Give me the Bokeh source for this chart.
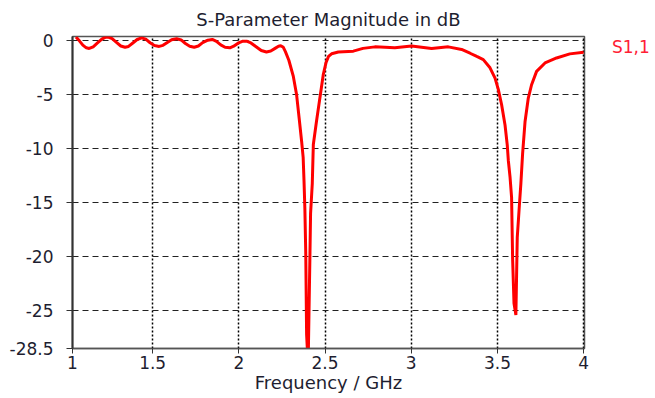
from bokeh.plotting import figure
from bokeh.models import FixedTicker, Range1d, Legend, LegendItem
from bokeh.embed import file_html
from bokeh.resources import INLINE

# S1,1 magnitude (dB) vs frequency (GHz)
freq = [1.055, 1.075, 1.095, 1.115, 1.132, 1.155, 1.18, 1.205, 1.225, 1.242,
        1.265, 1.29, 1.315, 1.34, 1.36, 1.385, 1.41, 1.436, 1.46, 1.485,
        1.51, 1.538, 1.56, 1.585, 1.61, 1.639, 1.665, 1.69, 1.715, 1.741,
        1.765, 1.79, 1.82, 1.846, 1.87, 1.895, 1.92, 1.948, 1.97, 1.995,
        2.02, 2.045, 2.07, 2.10, 2.13, 2.16, 2.185, 2.21, 2.23, 2.243,
        2.258, 2.27, 2.29, 2.316, 2.335, 2.35, 2.364, 2.373, 2.378, 2.383, 2.388,
        2.393, 2.402, 2.408, 2.412, 2.416, 2.426, 2.432, 2.45, 2.47, 2.49, 2.506,
        2.52, 2.538, 2.577, 2.664, 2.72, 2.789, 2.905, 3.002, 3.118, 3.215, 3.292,
        3.341, 3.38, 3.418, 3.457, 3.486, 3.505, 3.524, 3.544, 3.557, 3.563, 3.573,
        3.582, 3.588, 3.596, 3.607, 3.615, 3.627, 3.636, 3.646, 3.66, 3.679, 3.698,
        3.727, 3.776, 3.843, 3.92, 4.0]
s11_db = [0.35, 0.0, -0.4, -0.65, -0.71, -0.55, -0.2, 0.15, 0.32, 0.35,
          0.2, -0.15, -0.48, -0.6, -0.52, -0.2, 0.12, 0.28, 0.15, -0.18,
          -0.43, -0.52, -0.42, -0.15, 0.1, 0.2, 0.08, -0.25, -0.5, -0.6,
          -0.48, -0.17, 0.06, 0.13, -0.05, -0.38, -0.6, -0.65, -0.5, -0.22,
          -0.05, -0.03, -0.2, -0.55, -0.9, -1.03, -0.95, -0.7, -0.5, -0.45,
          -0.6, -1.0, -1.8, -3.3, -5.0, -7.2, -9.3, -10.8, -13.0, -15.6, -19.6,
          -27.2, -30.0, -24.0, -20.2, -16.0, -13.2, -9.6, -7.5, -5.3, -3.1, -2.0,
          -1.45, -1.2, -1.03, -0.96, -0.7, -0.56, -0.65, -0.49, -0.71, -0.56, -0.8,
          -1.15, -1.45, -1.74, -2.5, -3.45, -4.5, -5.9, -7.8, -9.66, -11.06, -12.6,
          -14.5, -20.2, -24.3, -25.4, -18.2, -15.3, -13.2, -10.45, -7.5, -5.3, -4.07,
          -2.83, -2.05, -1.59, -1.21, -1.05]

x_ticks = [1.035, 1.5, 2.0, 2.5, 3.0, 3.5, 4.0]
x_labels = ["1", "1.5", "2", "2.5", "3", "3.5", "4"]
y_ticks = [-28.5, -25, -20, -15, -10, -5, 0]
y_labels = ["-28.5", "-25", "-20", "-15", "-10", "-5", "0"]
series_name = "S1,1"

FONT = "DejaVu Sans"
TXT = "#1e1e30"

p = figure(frame_width=512, frame_height=312,
           min_border_left=72, min_border_right=71, min_border_top=36, min_border_bottom=50,
           x_range=Range1d(1.035, 4.005), y_range=Range1d(-28.5, 0.4),
           output_backend="svg", toolbar_location=None,
           title="S-Parameter Magnitude in dB")

p.title.text_font = FONT
p.title.text_font_size = "18px"
p.title.text_font_style = "normal"
p.title.text_color = TXT
p.title.align = "center"
p.title.vertical_align = "top"
p.title.standoff = 10

r = p.line(freq, s11_db, line_color="#ff0000", line_width=3)

p.xaxis.ticker = FixedTicker(ticks=x_ticks)
p.xaxis.major_label_overrides = dict(zip(x_ticks, x_labels))
p.yaxis.ticker = FixedTicker(ticks=y_ticks)
p.yaxis.major_label_overrides = dict(zip(y_ticks, y_labels))

p.xaxis.axis_label = "Frequency / GHz"
for ax in (p.xaxis, p.yaxis):
    ax.major_label_text_font = FONT
    ax.major_label_text_font_size = "17px"
    ax.major_label_text_color = TXT
    ax.axis_label_text_font = FONT
    ax.axis_label_text_font_size = "18px"
    ax.axis_label_text_font_style = "normal"
    ax.axis_label_text_color = TXT
    ax.minor_tick_line_color = None
    ax.major_tick_in = 0

p.xaxis.major_tick_out = 5
p.xaxis.major_label_standoff = 2
p.xaxis.axis_label_standoff = 0
p.xaxis.axis_line_color = "#555555"
p.xaxis.axis_line_width = 1.5
p.xaxis.major_tick_line_color = "#333333"

p.yaxis.major_tick_out = 6
p.yaxis.major_label_standoff = 13
p.yaxis.axis_line_color = "#333333"
p.yaxis.axis_line_width = 2
p.yaxis.major_tick_line_color = "#333333"

p.xgrid.grid_line_color = "#000000"
p.xgrid.grid_line_dash = "2 2"
p.xgrid.grid_line_width = 1.5
p.ygrid.grid_line_color = "#222222"
p.ygrid.grid_line_dash = "6 4"
p.ygrid.grid_line_width = 1

p.outline_line_color = "#555555"
p.outline_line_width = 1.5
p.background_fill_color = "white"
p.border_fill_color = "white"

legend = Legend(items=[LegendItem(label=series_name, renderers=[r])],
                location=(28, 291), glyph_width=0, glyph_height=18, label_height=18,
                padding=0, margin=0, label_standoff=0, spacing=0,
                border_line_color=None, background_fill_alpha=0,
                label_text_color="#ff2035", label_text_font=FONT,
                label_text_font_size="17px")
p.add_layout(legend, "right")

open("out.html", "w").write(file_html(p, INLINE))
